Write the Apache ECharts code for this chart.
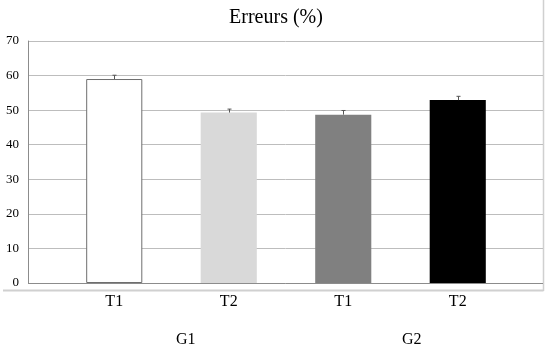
<!DOCTYPE html>
<html><head><meta charset="utf-8">
<script src="https://cdn.jsdelivr.net/npm/echarts@6/dist/echarts.min.js"></script>
<style>html,body{margin:0;padding:0;background:#fff}#c{width:550px;height:350px}</style>
</head><body><div id="c"></div>
<script>
var categories = ['T1', 'T2', 'T1', 'T2'];
var groups = ['G1', 'G2'];
var values = [59.0, 49.3, 48.7, 52.9];
var errors = [1.1, 1.0, 1.2, 1.1];
var barColors = ['#ffffff', '#d9d9d9', '#808080', '#000000'];
var titleText = 'Erreurs (%)';

var serif = '"Liberation Serif", "DejaVu Serif", serif';
var chart = echarts.init(document.getElementById('c'), null, {renderer: 'canvas'});
chart.setOption({
  animation: false,
  title: {text: titleText, left: 271, top: 3, textAlign: 'center',
    textStyle: {fontFamily: serif, fontSize: 20, fontWeight: 'normal', color: '#000'}},
  grid: [
    {left: 28, right: 7, top: 41, bottom: 67},
    {left: 57, right: 35, top: 41, bottom: 67}
  ],
  xAxis: [
    {gridIndex: 0, type: 'value', min: 0, max: 1, show: false},
    {gridIndex: 1, type: 'category', data: categories,
      axisLine: {show: false}, axisTick: {show: false},
      axisLabel: {fontFamily: serif, fontSize: 16, color: '#000', margin: 11}}
  ],
  yAxis: [
    {gridIndex: 0, type: 'value', min: 0, max: 70, interval: 10,
      axisLine: {show: true, lineStyle: {color: '#8c8c8c', width: 1}},
      axisTick: {show: false},
      axisLabel: {fontFamily: serif, fontSize: 13, color: '#000', margin: 9},
      splitLine: {lineStyle: {color: '#bdbdbd', width: 1}}},
    {gridIndex: 1, type: 'value', min: 0, max: 70, interval: 10, show: false}
  ],
  series: [
    {type: 'bar', xAxisIndex: 1, yAxisIndex: 1, barWidth: '49%',
      data: values.map(function (v, i) {
        return {value: v, itemStyle: {color: barColors[i],
          borderColor: i === 0 ? '#6e6e6e' : barColors[i], borderWidth: i === 0 ? 1 : 0}};
      })},
    {type: 'custom', xAxisIndex: 1, yAxisIndex: 1, z: 5,
      data: values.map(function (v, i) { return [i, v, v + errors[i]]; }),
      renderItem: function (params, api) {
        var b = api.coord([api.value(0), api.value(1)]);
        var t = api.coord([api.value(0), api.value(2)]);
        var x = Math.round(b[0]) + 0.5;
        return {type: 'group', children: [
          {type: 'line', shape: {x1: x, y1: b[1], x2: x, y2: t[1]}, style: {stroke: '#555', lineWidth: 1}},
          {type: 'line', shape: {x1: x - 2, y1: t[1], x2: x + 2, y2: t[1]}, style: {stroke: '#555', lineWidth: 1}}
        ]};
      }},
    {type: 'line', xAxisIndex: 0, yAxisIndex: 0, data: [], silent: true,
      markLine: {silent: true, symbol: 'none', label: {show: false},
        lineStyle: {color: '#8c8c8c', type: 'solid', width: 1},
        data: [{yAxis: 0}]}}
  ],
  graphic: [
    {type: 'line', shape: {x1: 3, y1: 290.5, x2: 543.5, y2: 290.5}, style: {stroke: '#d0d0d0', lineWidth: 2}},
    {type: 'line', shape: {x1: 543.5, y1: 0, x2: 543.5, y2: 291}, style: {stroke: '#d0d0d0', lineWidth: 1.5}},
    {type: 'text', left: 176, top: 332, style: {text: groups[0], font: '16px ' + serif, fill: '#000'}},
    {type: 'text', left: 402, top: 332, style: {text: groups[1], font: '16px ' + serif, fill: '#000'}}
  ]
});
</script></body></html>
